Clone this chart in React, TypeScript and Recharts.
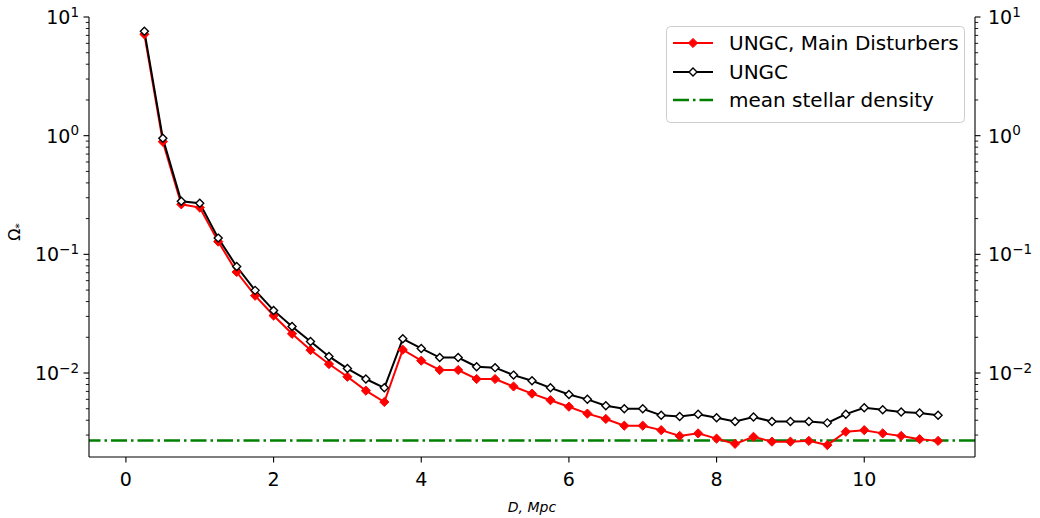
import { LineChart, Line, XAxis, YAxis, ReferenceLine, Legend } from 'recharts';

const distance = [
  0.25, 0.5, 0.75, 1, 1.25, 1.5, 1.75, 2, 2.25, 2.5, 2.75, 3, 3.25, 3.5, 3.75, 4, 4.25, 4.5, 4.75, 5, 5.25, 5.5,
  5.75, 6, 6.25, 6.5, 6.75, 7, 7.25, 7.5, 7.75, 8, 8.25, 8.5, 8.75, 9, 9.25, 9.5, 9.75, 10, 10.25, 10.5, 10.75, 11,
];

const mainDisturbers = [
  7.15, 0.89, 0.264, 0.248, 0.128, 0.071, 0.0448, 0.0305, 0.0214, 0.0156, 0.0119, 0.0093, 0.0071, 0.0057, 0.0157,
  0.0127, 0.0106, 0.0106, 0.0089, 0.0089, 0.0077, 0.0067, 0.0059, 0.0052, 0.00455, 0.0041, 0.0036, 0.0036, 0.0033,
  0.00295, 0.0031, 0.0028, 0.00253, 0.0029, 0.00264, 0.00264, 0.00268, 0.00247, 0.0032, 0.0033, 0.0031, 0.00295,
  0.00277, 0.00268,
];

const ungc = [
  7.6, 0.95, 0.28, 0.27, 0.137, 0.079, 0.0497, 0.0337, 0.0247, 0.0184, 0.0138, 0.0109, 0.0089, 0.0075, 0.0194,
  0.0161, 0.0135, 0.0135, 0.0113, 0.0111, 0.0096, 0.0086, 0.0075, 0.0066, 0.006, 0.0053, 0.005, 0.005, 0.0044,
  0.0043, 0.0045, 0.0042, 0.0039, 0.00425, 0.0039, 0.0039, 0.0039, 0.0038, 0.0045, 0.0051, 0.0049, 0.0047, 0.0046,
  0.0044,
];

const meanStellarDensity = 0.0027;

const xTicks = [0, 2, 4, 6, 8, 10];
const majorYTicks = [0.01, 0.1, 1, 10];
const minorYTicks = [
  0.003, 0.004, 0.005, 0.006, 0.007, 0.008, 0.009, 0.02, 0.03, 0.04, 0.05, 0.06, 0.07, 0.08, 0.09, 0.2, 0.3, 0.4,
  0.5, 0.6, 0.7, 0.8, 0.9, 2, 3, 4, 5, 6, 7, 8, 9,
];

const seriesNames = ['UNGC, Main Disturbers', 'UNGC', 'mean stellar density'];

const FONT = 'DejaVu Sans';
const GREEN_DASH = '16 4 2.5 4';
const RED_R = 4.6;
const BLACK_R = 4;

const rows = distance.map((d, i) => ({ d, main: mainDisturbers[i], ungc: ungc[i] }));
const yTicks = [...majorYTicks, ...minorYTicks];

function diamondPath(cx: number, cy: number, r: number) {
  return `M${cx},${cy - r}L${cx + r},${cy}L${cx},${cy + r}L${cx - r},${cy}Z`;
}

function RedDot(props: any) {
  const { cx, cy, index } = props;
  if (cx == null || cy == null) return <g key={index} />;
  return <path key={index} d={diamondPath(cx, cy, RED_R)} fill="#ff0000" stroke="#ff0000" strokeWidth={1} />;
}

function BlackDot(props: any) {
  const { cx, cy, index } = props;
  if (cx == null || cy == null) return <g key={index} />;
  return <path key={index} d={diamondPath(cx, cy, BLACK_R)} fill="#ffffff" stroke="#000000" strokeWidth={1.4} />;
}

function expLabel(e: number) {
  return e < 0 ? `\u2212${Math.abs(e)}` : `${e}`;
}

// log axis ticks: majors get a 10^n label, minors only a short line
function LogTick(props: any) {
  const { x, y, payload, side } = props;
  const v = payload.value;
  const lg = Math.log10(v);
  const e = Math.round(lg);
  const major = Math.abs(lg - e) < 1e-6;
  const dir = side === 'left' ? -1 : 1;
  const len = major ? 5.5 : 3.2;
  return (
    <g>
      <line x1={x} x2={x + dir * len} y1={y} y2={y} stroke="#000" strokeWidth={major ? 1.1 : 0.9} />
      {major && (
        <text
          x={side === 'left' ? x - 10 : x + 13}
          y={y + 7}
          textAnchor={side === 'left' ? 'end' : 'start'}
          fontFamily={FONT}
          fontSize={19}
          fill="#000"
        >
          10
          <tspan dy={-7.5} fontSize={13.5}>
            {expLabel(e)}
          </tspan>
        </text>
      )}
    </g>
  );
}

function XTick(props: any) {
  const { x, y, payload } = props;
  return (
    <g>
      <line x1={x} x2={x} y1={y} y2={y + 5.5} stroke="#000" strokeWidth={1.1} />
      <text x={x} y={y + 29} textAnchor="middle" fontFamily={FONT} fontSize={19} fill="#000">
        {payload.value}
      </text>
    </g>
  );
}

function YLabel(props: any) {
  const vb = props.viewBox || { x: 0, y: 17, width: 89, height: 440 };
  const cy = vb.y + vb.height / 2 - 5;
  return (
    <text transform={`translate(20,${cy}) rotate(-90)`} textAnchor="middle" fontFamily={FONT} fontSize={16} fill="#000">
      Ω
      <tspan dy={3} fontSize={11}>
        *
      </tspan>
    </text>
  );
}

function LegendBox() {
  const rowsY = [43, 72, 100];
  return (
    <svg width={300} height={98} style={{ display: 'block' }}>
      <rect x={0.5} y={0.5} width={298} height={96} rx={4} fill="rgba(255,255,255,0.85)" stroke="#cccccc" strokeWidth={1} />
      {rowsY.map((ry, i) => {
        const cy = ry - 26;
        return (
          <g key={i}>
            {i === 0 && (
              <>
                <line x1={7} x2={47} y1={cy} y2={cy} stroke="#ff0000" strokeWidth={2} />
                <path d={diamondPath(27, cy, RED_R)} fill="#ff0000" stroke="#ff0000" strokeWidth={1} />
              </>
            )}
            {i === 1 && (
              <>
                <line x1={7} x2={47} y1={cy} y2={cy} stroke="#000" strokeWidth={2} />
                <path d={diamondPath(27, cy, BLACK_R)} fill="#fff" stroke="#000" strokeWidth={1.4} />
              </>
            )}
            {i === 2 && (
              <line x1={7} x2={47} y1={cy} y2={cy} stroke="#008000" strokeWidth={2.5} strokeDasharray={GREEN_DASH} />
            )}
            <text x={63} y={cy + 7} fontFamily={FONT} fontSize={20} fill="#000">
              {seriesNames[i]}
            </text>
          </g>
        );
      })}
    </svg>
  );
}

export default function App() {
  return (
    <div style={{ position: 'absolute', left: 0, top: 0, width: 1040, height: 518, background: '#fff' }}>
      <LineChart width={1040} height={518} data={rows} margin={{ top: 17, right: 0, bottom: 0, left: 0 }}>
        <XAxis
          dataKey="d"
          type="number"
          domain={[-0.5, 11.5]}
          ticks={xTicks}
          interval={0}
          allowDataOverflow
          height={61}
          tickSize={0}
          tickMargin={0}
          tickLine={false}
          tick={<XTick />}
          axisLine={{ stroke: '#000', strokeWidth: 1.1 }}
          label={{
            value: 'D, Mpc',
            position: 'insideBottom',
            offset: 6,
            style: { fontFamily: FONT, fontSize: 14, fontStyle: 'italic', fill: '#000' },
          }}
        />
        <XAxis
          xAxisId="top"
          orientation="top"
          dataKey="d"
          type="number"
          domain={[-0.5, 11.5]}
          allowDataOverflow
          height={0}
          tick={false}
          tickLine={false}
          axisLine={{ stroke: '#000', strokeWidth: 1.1 }}
        />
        <YAxis
          yAxisId="left"
          orientation="left"
          type="number"
          scale="log"
          domain={[0.00196, 10]}
          allowDataOverflow
          ticks={yTicks}
          interval={0}
          width={89}
          tickSize={0}
          tickMargin={0}
          tickLine={false}
          tick={<LogTick side="left" />}
          axisLine={{ stroke: '#000', strokeWidth: 1.1 }}
          label={<YLabel />}
        />
        <YAxis
          yAxisId="right"
          orientation="right"
          type="number"
          scale="log"
          domain={[0.00196, 10]}
          allowDataOverflow
          ticks={yTicks}
          interval={0}
          width={65}
          tickSize={0}
          tickMargin={0}
          tickLine={false}
          tick={<LogTick side="right" />}
          axisLine={{ stroke: '#000', strokeWidth: 1.1 }}
        />
        <ReferenceLine
          yAxisId="right"
          y={meanStellarDensity}
          stroke="#008000"
          strokeWidth={2.5}
          strokeDasharray={GREEN_DASH}
          ifOverflow="hidden"
        />
        <Line
          yAxisId="left"
          dataKey="main"
          name={seriesNames[0]}
          stroke="#ff0000"
          strokeWidth={2}
          dot={(p: any) => <RedDot key={`r-${p.index}`} {...p} />}
          activeDot={false}
          isAnimationActive={false}
        />
        <Line
          yAxisId="left"
          dataKey="ungc"
          name={seriesNames[1]}
          stroke="#000000"
          strokeWidth={2}
          dot={(p: any) => <BlackDot key={`b-${p.index}`} {...p} />}
          activeDot={false}
          isAnimationActive={false}
        />
        <Legend
          layout="horizontal"
          verticalAlign="middle"
          align="center"
          wrapperStyle={{ top: 26, left: 666, width: 300, height: 98 }}
          content={() => <LegendBox />}
        />
      </LineChart>
    </div>
  );
}
